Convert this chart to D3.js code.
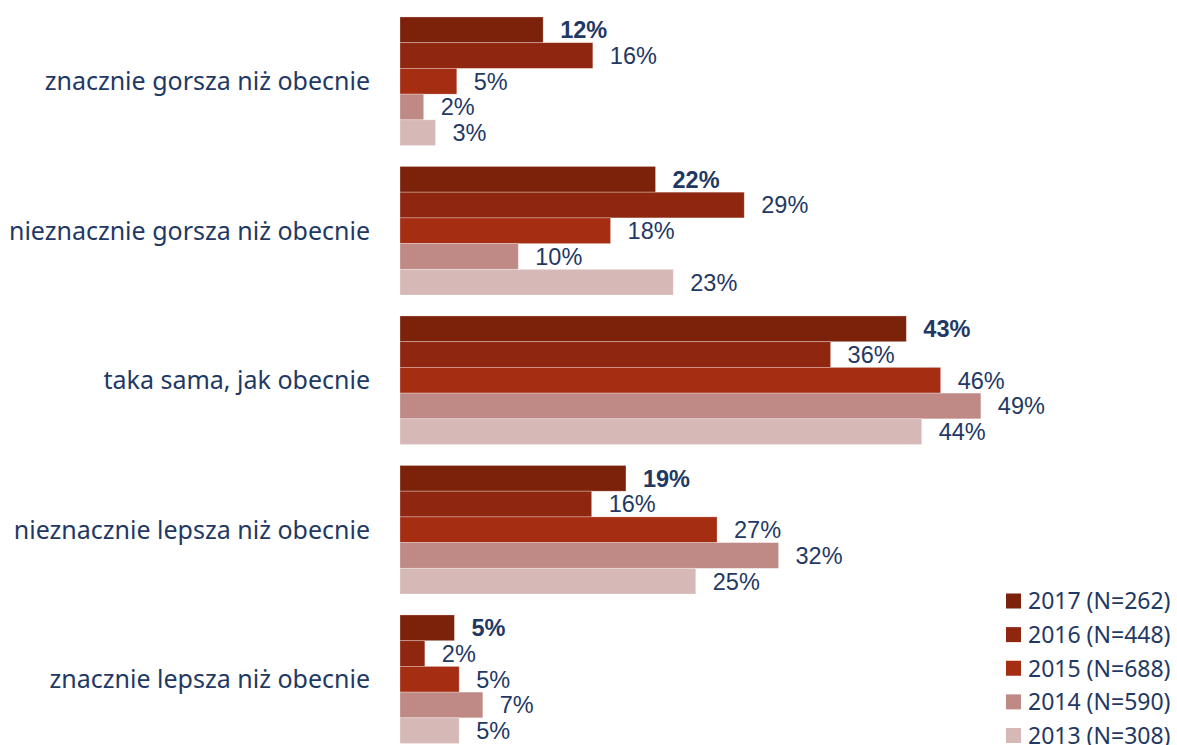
<!DOCTYPE html>
<html>
<head>
<meta charset="utf-8">
<script src="https://cdn.jsdelivr.net/npm/d3@7/dist/d3.min.js"></script>
<style>
  html, body { margin: 0; padding: 0; background: #ffffff; }
  svg { display: block; }
</style>
</head>
<body>
<svg id="chart" width="1177" height="745"></svg>
<script>
const categories = [
  "znacznie gorsza niż obecnie",
  "nieznacznie gorsza niż obecnie",
  "taka sama, jak obecnie",
  "nieznacznie lepsza niż obecnie",
  "znacznie lepsza niż obecnie"
];
const years = ["2017 (N=262)", "2016 (N=448)", "2015 (N=688)", "2014 (N=590)", "2013 (N=308)"];
const colors = ["#7c210a", "#8f2710", "#a52d12", "#bf8985", "#d6b8b6"];
const values2017 = [12.1, 21.6, 42.8, 19.1, 4.6];
const values2016 = [16.3, 29.1, 36.4, 16.2, 2.1];
const values2015 = [4.8, 17.8, 45.7, 26.8, 5.0];
const values2014 = [2.0, 10.0, 49.1, 32.0, 7.0];
const values2013 = [3.0, 23.1, 44.1, 25.0, 5.0];
const seriesValues = [values2017, values2016, values2015, values2014, values2013];

const svg = d3.select("#chart");
const textColor = "#1f3864";

const x = d3.scaleLinear().domain([0, 50]).range([400, 991.5]);
const y = d3.scaleBand().domain(categories).range([6.5, 754]).paddingInner(0.14).paddingOuter(0.07);
const yInner = d3.scaleBand().domain(years).range([0, y.bandwidth()]).padding(0);

const groups = svg.selectAll("g.group")
  .data(categories)
  .join("g")
  .attr("class", "group")
  .attr("transform", d => `translate(0,${y(d)})`);

groups.each(function(cat, ci) {
  const g = d3.select(this);
  const rows = years.map((yr, si) => ({ yr, si, v: seriesValues[si][ci] }));
  g.selectAll("rect")
    .data(rows)
    .join("rect")
    .attr("x", x(0))
    .attr("y", d => yInner(d.yr))
    .attr("width", d => x(d.v) - x(0))
    .attr("height", yInner.bandwidth())
    .attr("fill", d => colors[d.si])
    .attr("stroke", "rgba(255,255,255,0.35)")
    .attr("stroke-width", 0.8);
  g.selectAll("text.val")
    .data(rows)
    .join("text")
    .attr("class", "val")
    .attr("x", d => x(d.v) + 17)
    .attr("y", d => yInner(d.yr) + yInner.bandwidth() / 2)
    .attr("dy", "0.36em")
    .attr("fill", textColor)
    .attr("font-family", "'Liberation Sans', Arial, sans-serif")
    .attr("font-size", 23.5)
    .attr("font-weight", d => d.si === 0 ? "bold" : "normal")
    .text(d => Math.round(d.v) + "%");
});

svg.selectAll("text.cat")
  .data(categories)
  .join("text")
  .attr("class", "cat")
  .attr("x", 370)
  .attr("y", d => y(d) + y.bandwidth() / 2)
  .attr("dy", "0.35em")
  .attr("text-anchor", "end")
  .attr("fill", textColor)
  .attr("font-family", "'Noto Sans', sans-serif")
  .attr("font-size", 25)
  .text(d => d);

const legend = svg.append("g");
const legendY = d3.scalePoint().domain(years).range([601, 735.5]);
const li = legend.selectAll("g")
  .data(years)
  .join("g")
  .attr("transform", d => `translate(1006,${legendY(d)})`);
li.append("rect")
  .attr("x", 0).attr("y", -7.5)
  .attr("width", 15).attr("height", 15)
  .attr("fill", (d, i) => colors[i]);
li.append("text")
  .attr("x", 22)
  .attr("y", 0)
  .attr("dy", "0.36em")
  .attr("fill", textColor)
  .attr("font-family", "'Noto Sans', sans-serif")
  .attr("font-size", 23)
  .text(d => d);
</script>
</body>
</html>
